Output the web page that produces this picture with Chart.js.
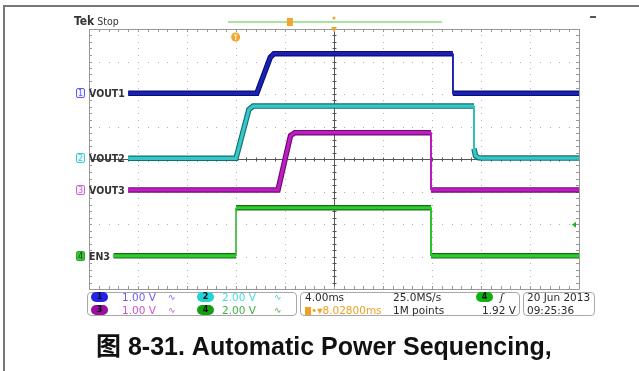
<!DOCTYPE html>
<html>
<head>
<meta charset="utf-8">
<script src="https://cdn.jsdelivr.net/npm/chart.js@4.4.0/dist/chart.umd.min.js"></script>
<style>
  body { margin: 0; background: #fff; }
  #wrap { position: relative; width: 639px; height: 371px; overflow: hidden; font-family: "DejaVu Sans", sans-serif; }
  #scope { position: absolute; left: 0; top: 0; }
  .abs { position: absolute; white-space: nowrap; }
  .frameL { left: 3px; top: 5px; width: 2px; height: 366px; background: #777; }
  .frameT { left: 3px; top: 5px; width: 636px; height: 2px; background: #777; }
  .box { border: 1.5px solid #a8a8a8; border-radius: 4px; box-sizing: border-box; }
  .txt { font-size: 10.5px; line-height: 12px; color: #2a2a2a; }
  .oval { width: 17px; height: 10px; border-radius: 5px; font-size: 8px; line-height: 10px; text-align: center; font-weight: bold; color: #111; }
  .chbox { width: 9px; height: 10px; border: 1px solid; border-radius: 2px; font-size: 8px; line-height: 10px; text-align: center; box-sizing: border-box; }
  .chname { font-family: "DejaVu Sans Condensed", "DejaVu Sans", sans-serif; font-size: 10.5px; line-height: 12px; color: #333; font-weight: bold; }
  .caption { font-family: "Liberation Sans", Arial, "Noto Sans CJK SC", sans-serif; font-weight: bold; font-size: 25px; line-height: 25px; color: #111; }
</style>
</head>
<body>
<div id="wrap">
  <canvas id="scope" width="639" height="371"></canvas>
  <div class="abs frameL"></div>
  <div class="abs frameT"></div>

  <div class="abs" style="left:74px;top:15px;font-family:'DejaVu Sans Condensed','DejaVu Sans';font-size:12px;line-height:13px;color:#333;"><b>Tek</b><span style="font-size:10.5px"> Stop</span></div>
  <div class="abs" style="left:590px;top:16px;width:6px;height:1.5px;background:#555;"></div>

  <!-- bottom readout panel -->
  <div class="abs box" style="left:87px;top:292px;width:210px;height:24px;"></div>
  <div class="abs box" style="left:300px;top:292px;width:220px;height:24px;"></div>
  <div class="abs box" style="left:523px;top:292px;width:72px;height:24px;"></div>

  <div class="abs oval" style="left:91px;top:292px;background:#2424e8;">1</div>
  <div class="abs txt" style="left:122px;top:291px;color:#6c5cff;">1.00 V</div>
  <div class="abs txt" style="left:168px;top:291px;color:#6c5cff;font-size:9px;">∿</div>
  <div class="abs oval" style="left:197px;top:292px;background:#22d4d4;">2</div>
  <div class="abs txt" style="left:222px;top:291px;color:#44dede;">2.00 V</div>
  <div class="abs txt" style="left:274px;top:291px;color:#44cccc;font-size:9px;">∿</div>

  <div class="abs oval" style="left:91px;top:305px;background:#9a109a;">3</div>
  <div class="abs txt" style="left:122px;top:304px;color:#d050d0;">1.00 V</div>
  <div class="abs txt" style="left:168px;top:304px;color:#c050c0;font-size:9px;">∿</div>
  <div class="abs oval" style="left:197px;top:305px;background:#12a012;">4</div>
  <div class="abs txt" style="left:222px;top:304px;color:#40b040;">2.00 V</div>
  <div class="abs txt" style="left:274px;top:304px;color:#40b040;font-size:9px;">∿</div>

  <div class="abs txt" style="left:305px;top:291px;">4.00ms</div>
  <div class="abs txt" style="left:393px;top:291px;">25.0MS/s</div>
  <div class="abs txt" style="left:305px;top:304px;color:#f0a020;"><span style="display:inline-block;width:6px;height:8px;background:#f0a020;vertical-align:-1px;"></span>•▾8.02800ms</div>
  <div class="abs txt" style="left:393px;top:304px;">1M points</div>
  <div class="abs oval" style="left:476px;top:292px;background:#12b012;">4</div>
  <div class="abs txt" style="left:500px;top:291px;font-style:italic;">ʃ</div>
  <div class="abs txt" style="left:480px;top:304px;width:36px;text-align:right;">1.92 V</div>
  <div class="abs txt" style="left:527px;top:291px;">20 Jun 2013</div>
  <div class="abs txt" style="left:527px;top:304px;">09:25:36</div>

  <div class="abs caption" style="left:96px;top:334px;">图 8-31. Automatic Power Sequencing,</div>
</div>

<script>
// time in ms (4 ms/div, centre of screen = 0), amplitude in screen divisions
const vout1T = [-16.8, -6.3, -5.2, -4.9, 9.7, 9.7, 20];
const vout1V = [2.02, 2.02, 3.13, 3.24, 3.24, 2.02, 2.02];

const vout2T = [-16.8, -8.0, -6.95, -6.6, 11.43, 11.43, 11.55, 11.8, 12.1, 20];
const vout2V = [0.02, 0.02, 1.52, 1.63, 1.63, 0.32, 0.1, 0.04, 0.03, 0.03];

const vout3T = [-16.8, -4.57, -3.55, -3.2, 7.92, 7.92, 20];
const vout3V = [-0.95, -0.95, 0.72, 0.81, 0.81, -0.95, -0.95];

const en3T = [-18.0, -8.0, -8.0, 7.92, 7.92, 20];
const en3V = [-2.98, -2.98, -1.5, -1.5, -2.98, -2.98];

const channelNames = ['VOUT1', 'VOUT2', 'VOUT3', 'EN3'];
const channelOffsets = [2.02, 0.02, -0.95, -2.98];
const triggerDelay = -8.028;   // ms
const triggerLevel = -2.02;    // div (1.92 V on ch4)

const chColors = [
  { main: '#1a22b4', dark: '#0a0c78', box: '#5a5aff' },
  { main: '#34c8c8', dark: '#137070', box: '#30d0d0' },
  { main: '#c01cc4', dark: '#6e0c70', box: '#d060d0' },
  { main: '#2ecc2e', dark: '#157015', box: '#20b020' }
];

const toPts = (ts, vs) => ts.map((t, i) => ({ x: t, y: vs[i] }));
const traces = [toPts(vout1T, vout1V), toPts(vout2T, vout2V), toPts(vout3T, vout3V), toPts(en3T, en3V)];

const vertical = ctx => ctx.p0.parsed.x === ctx.p1.parsed.x ? 1 : undefined;

const datasets = [];
traces.forEach((pts, i) => {
  datasets.push({ data: pts, borderColor: chColors[i].dark, borderWidth: 5.5, order: 2,
    pointRadius: 0, segment: { borderWidth: vertical } });
  datasets.push({ data: pts, borderColor: chColors[i].main, borderWidth: 3.2, order: 1,
    pointRadius: 0, segment: { borderWidth: vertical } });
});

const graticule = {
  id: 'graticule',
  beforeDatasetsDraw(chart) {
    const { ctx, chartArea: a, scales: { x, y } } = chart;
    ctx.save();
    // dotted grid
    ctx.fillStyle = '#b0b0b0';
    for (let d = -4; d <= 4; d++) {
      if (d === 0) continue;
      const px = Math.round(x.getPixelForValue(d * 4));
      for (let k = 0; k <= 40; k++) ctx.fillRect(px, Math.round(y.getPixelForValue(-4 + k * 0.2)), 1, 1);
    }
    for (let d = -3; d <= 3; d++) {
      if (d === 0) continue;
      const py = Math.round(y.getPixelForValue(d));
      for (let k = 0; k <= 50; k++) ctx.fillRect(Math.round(x.getPixelForValue(-20 + k * 0.8)), py, 1, 1);
    }
    // centre cross with ticks
    const cx = Math.round(x.getPixelForValue(0)) + 0.5;
    const cy = Math.round(y.getPixelForValue(0)) + 0.5;
    ctx.strokeStyle = '#555';
    ctx.lineWidth = 1;
    ctx.beginPath();
    ctx.moveTo(a.left, cy); ctx.lineTo(a.right, cy);
    ctx.moveTo(cx, a.top); ctx.lineTo(cx, a.bottom);
    for (let k = 0; k <= 50; k++) {
      const px = Math.round(x.getPixelForValue(-20 + k * 0.8)) + 0.5;
      ctx.moveTo(px, cy - 2); ctx.lineTo(px, cy + 2);
    }
    for (let k = 0; k <= 40; k++) {
      const py = Math.round(y.getPixelForValue(-4 + k * 0.2)) + 0.5;
      ctx.moveTo(cx - 2, py); ctx.lineTo(cx + 2, py);
    }
    ctx.stroke();
    // border with inward ticks
    ctx.strokeStyle = '#999';
    ctx.beginPath();
    ctx.rect(Math.round(a.left) + 0.5, Math.round(a.top) + 0.5, Math.round(a.right - a.left), Math.round(a.bottom - a.top));
    for (let k = 0; k <= 50; k++) {
      const px = Math.round(x.getPixelForValue(-20 + k * 0.8)) + 0.5;
      ctx.moveTo(px, a.top); ctx.lineTo(px, a.top + 3);
      ctx.moveTo(px, a.bottom); ctx.lineTo(px, a.bottom - 3);
    }
    for (let k = 0; k <= 40; k++) {
      const py = Math.round(y.getPixelForValue(-4 + k * 0.2)) + 0.5;
      ctx.moveTo(a.left, py); ctx.lineTo(a.left + 3, py);
      ctx.moveTo(a.right, py); ctx.lineTo(a.right - 3, py);
    }
    ctx.stroke();
    ctx.restore();
  },
  afterDraw(chart) {
    const { ctx, chartArea: a, scales: { x, y } } = chart;
    ctx.save();
    // record view bar
    ctx.fillStyle = '#a8e4a0';
    ctx.fillRect(x.getPixelForValue(-8.65), a.top - 8, x.getPixelForValue(8.82) - x.getPixelForValue(-8.65), 2);
    // trigger position on record bar
    const tb = x.getPixelForValue(-3.6);
    ctx.fillStyle = '#f2a530';
    ctx.fillRect(tb - 3, a.top - 11, 6, 8);
    // expansion point
    const c0 = x.getPixelForValue(0);
    ctx.beginPath(); ctx.arc(c0, a.top - 11, 1.5, 0, Math.PI * 2); ctx.fill();
    ctx.beginPath(); ctx.moveTo(c0 - 3, a.top - 2); ctx.lineTo(c0 + 3, a.top - 2); ctx.lineTo(c0, a.top + 3); ctx.closePath(); ctx.fill();
    // trigger marker
    const tx = x.getPixelForValue(triggerDelay);
    ctx.beginPath(); ctx.arc(tx, a.top + 8, 4.5, 0, Math.PI * 2); ctx.fill();
    ctx.strokeStyle = '#fff3d0'; ctx.lineWidth = 1.2;
    ctx.beginPath(); ctx.moveTo(tx - 2, a.top + 6); ctx.lineTo(tx + 2, a.top + 6); ctx.moveTo(tx, a.top + 6); ctx.lineTo(tx, a.top + 11); ctx.stroke();
    // trigger level arrow (ch4)
    const ty = y.getPixelForValue(triggerLevel);
    ctx.fillStyle = '#22b022';
    ctx.beginPath(); ctx.moveTo(a.right - 7, ty); ctx.lineTo(a.right - 3, ty - 3); ctx.lineTo(a.right - 3, ty + 3); ctx.closePath(); ctx.fill();
    ctx.restore();
  }
};

const chart = new Chart(document.getElementById('scope'), {
  type: 'line',
  data: { datasets },
  options: {
    responsive: false,
    animation: false,
    events: [],
    layout: { padding: { left: 89, right: 60, top: 29, bottom: 82 } },
    scales: {
      x: { type: 'linear', min: -20, max: 20, display: false },
      y: { type: 'linear', min: -4, max: 4, display: false }
    },
    plugins: { legend: { display: false }, tooltip: { enabled: false } }
  },
  plugins: [graticule]
});

// channel ground markers on the left, placed from the y scale
const wrap = document.getElementById('wrap');
channelOffsets.forEach((off, i) => {
  const py = chart.scales.y.getPixelForValue(off);
  const b = document.createElement('div');
  b.className = 'abs chbox';
  b.style.left = '76px';
  b.style.top = (py - 5) + 'px';
  b.style.borderColor = chColors[i].box;
  b.style.color = chColors[i].box;
  b.style.background = i === 3 ? '#40c040' : '#f4f4ff';
  if (i === 3) b.style.color = '#0a4a0a';
  b.textContent = String(i + 1);
  wrap.appendChild(b);
  const n = document.createElement('div');
  n.className = 'abs chname';
  n.style.left = '89px';
  n.style.top = (py - 6) + 'px';
  n.textContent = channelNames[i];
  wrap.appendChild(n);
});
</script>
</body>
</html>
